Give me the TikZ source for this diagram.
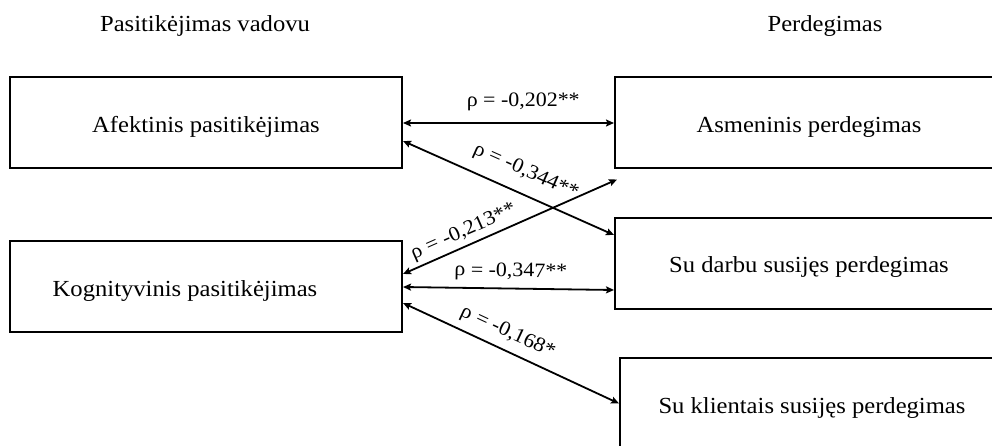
\documentclass[tikz,border=0pt]{standalone}
\usepackage{fontspec}
\setmainfont[FakeStretch=1.07]{Liberation Serif}
\usetikzlibrary{arrows.meta,calc}
\begin{document}
\begin{tikzpicture}[x=1pt,y=-1pt,
  box/.style={draw, line width=2pt, minimum width=392pt, minimum height=91pt, inner sep=0pt},
  boxtext/.style={font=\fontsize{23}{27}\selectfont, inner sep=0pt, anchor=base},
  rel/.style={line width=1.8pt, {Stealth[length=8pt,width=7pt,inset=1.5pt]}-{Stealth[length=8pt,width=7pt,inset=1.5pt]}},
  lab/.style={font=\fontsize{20.5}{23}\selectfont, sloped, inner sep=0pt}]
\useasboundingbox (0,0) rectangle (992,446);
\clip (0,0) rectangle (992,446);
% titles
\node[boxtext] (t1) at (205,31.7) {Pasitikėjimas vadovu};
\node[boxtext] (t2) at (825,31.7) {Perdegimas};
% boxes
\node[box] (A) at (206,123) {};
\node[box] (K) at (206,286.5) {};
\node[box] (S1) at (811,123) {};
\node[box] (S2) at (811,263.5) {};
\node[box] (S3) at (816,403.5) {};
% box texts
\node[boxtext] (tA) at (206,132.7) {Afektinis pasitikėjimas};
\node[boxtext] (tK) at (185,296.7) {Kognityvinis pasitikėjimas};
\node[boxtext] (tS1) at (809,132.7) {Asmeninis perdegimas};
\node[boxtext] (tS2) at (809,272.7) {Su darbu susijęs perdegimas};
\node[boxtext] (tS3) at (812,413) {Su klientais susijęs perdegimas};
% free end
\coordinate (e3) at ($(S1.south west)+(3,10)$);
% connectors
\draw[rel] (A.east) -- (S1.west)
  node[lab, pos=0.57, above=11pt] (l1) {ρ = -0,202**};
\draw[rel] ($(A.east)+(0,18)$) -- ($(S2.west)+(0,-28.5)$)
  node[lab, pos=0.54, above=12pt] (l2) {ρ = -0,344**};
\draw[rel] ($(K.east)+(0,-12.5)$) -- (e3)
  node[lab, pos=0.31, above=4pt] (l3) {ρ = -0,213**};
\draw[rel] ($(K.east)+(0,0.5)$) -- ($(S2.west)+(0,26.5)$)
  node[lab, pos=0.51, above=6.5pt] (l4) {ρ = -0,347**};
\draw[rel] ($(K.east)+(0,16.5)$) -- (S3.west)
  node[lab, pos=0.45, above=7.5pt] (l5) {ρ = -0,168*};
\end{tikzpicture}
\end{document}
